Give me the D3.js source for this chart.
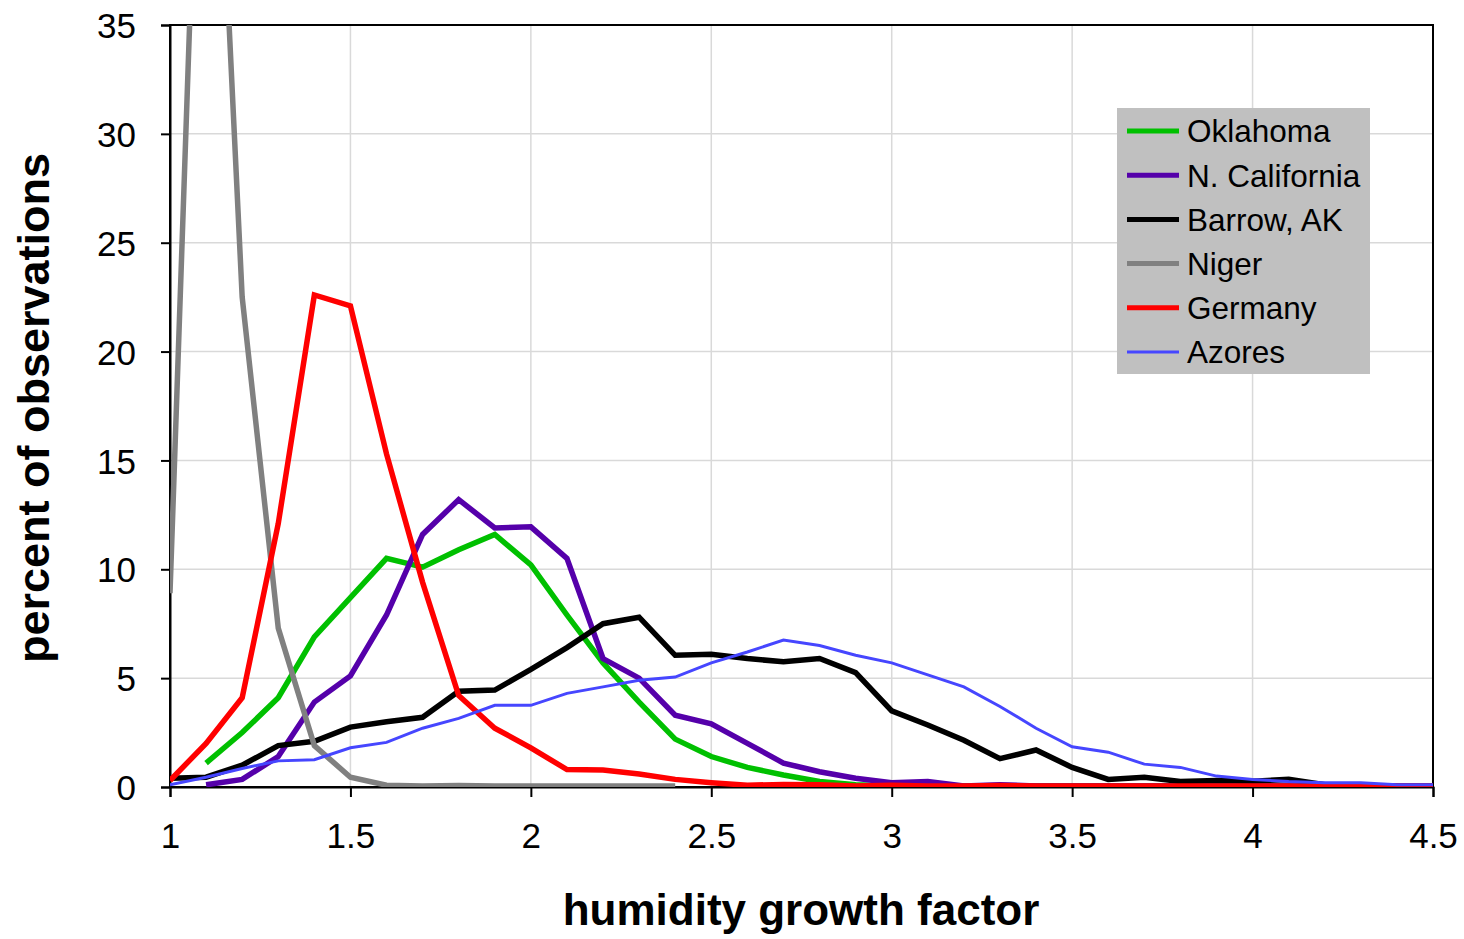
<!DOCTYPE html>
<html>
<head>
<meta charset="utf-8">
<script src="https://d3js.org/d3.v7.min.js"></script>
<style>
  body { margin: 0; background: white; }
  svg { font-family: "Liberation Sans", Arial, sans-serif; }
</style>
</head>
<body>
<svg id="chart" width="1464" height="939"></svg>
<script>
// growth factor bins (0.1 wide)
var gf = [1.0,1.1,1.2,1.3,1.4,1.5,1.6,1.7,1.8,1.9,2.0,2.1,2.2,2.3,2.4,2.5,2.6,2.7,2.8,2.9,3.0,
          3.1,3.2,3.3,3.4,3.5,3.6,3.7,3.8,3.9,4.0,4.1,4.2,4.3,4.4,4.5]

// percent of observations (null = no point)
var oklahoma = [null,1.1,2.5,4.1,6.9,8.7,10.5,10.1,10.9,11.6,10.2,7.9,5.7,3.9,2.2,1.4,0.9,0.55,0.25,0.1,0.05,
                0.05,0.05,0.05,0.05,0.05,0.05,0.05,0.05,0.05,0.05,0.05,0.05,0.05,0.05,0.05]
var nCalifornia = [null,0.1,0.35,1.4,3.9,5.1,7.9,11.6,13.2,11.9,11.95,10.5,5.9,5.0,3.3,2.9,2.0,1.1,0.7,0.4,0.2,
                   0.25,0.05,0.1,0.05,0.05,0.05,0.05,0.05,0.05,0.05,0.05,0.05,0.05,0.05,0.05]
var barrow = [0.4,0.45,1.0,1.9,2.1,2.75,3.0,3.2,4.4,4.45,5.4,6.4,7.5,7.8,6.05,6.1,5.9,5.75,5.9,5.25,3.5,
              2.85,2.15,1.3,1.7,0.9,0.35,0.45,0.25,0.3,0.27,0.35,0.1,0.05,0.05,0.05]
var niger = [8.9,57,22.5,7.3,1.9,0.45,0.08,0.05,0.07,0.05,0.05,0.05,0.05,0.05,0.05,null,null,null,null,null,null,
             null,null,null,null,null,null,null,null,null,null,null,null,null,null,null]
var germany = [0.3,2.0,4.1,12.1,22.6,22.1,15.3,9.4,4.2,2.7,1.8,0.8,0.78,0.6,0.35,0.2,0.08,0.12,0.1,0.05,0.08,
               0.05,0.05,0.07,0.05,0.05,0.05,0.05,0.05,0.05,0.05,0.05,0.05,0.05,0.05,0.05]
var azores = [0.1,0.45,0.85,1.2,1.25,1.8,2.05,2.7,3.15,3.75,3.75,4.3,4.6,4.9,5.05,5.7,6.2,6.75,6.5,6.05,5.7,
              5.15,4.6,3.7,2.7,1.85,1.6,1.05,0.9,0.5,0.35,0.25,0.2,0.2,0.1,0.1]

var seriesNames = ["Oklahoma","N. California","Barrow, AK","Niger","Germany","Azores"]
var seriesValues = [oklahoma, nCalifornia, barrow, niger, germany, azores]
var seriesColors = ["#00c000","#5500aa","#000000","#808080","#ff0000","#4646ff"]
var seriesWidths = [5.5,5.5,5.5,5.5,5.5,3]

var xTicks = [1,1.5,2,2.5,3,3.5,4,4.5]
var yTicks = [0,5,10,15,20,25,30,35]

var margins = {left: 170, right: 31, top: 25, bottom: 152}
var width = 1464, height = 939
var innerW = width - margins.left - margins.right
var innerH = height - margins.top - margins.bottom

var svg = d3.select("#chart")
var g = svg.append("g")
  .attr("transform", "translate(" + margins.left + "," + margins.top + ")")

var xScale = d3.scaleLinear().domain([1, 4.5]).range([0, innerW])
var yScale = d3.scaleLinear().domain([0, 35]).range([innerH, 0])

// clip so Niger's peak is cut at the top
g.append("clipPath").attr("id", "plotclip")
  .append("rect").attr("width", innerW).attr("height", innerH)

// gridlines
g.append("g").selectAll("line").data(xTicks.slice(1, -1)).enter().append("line")
  .attr("x1", function(d){ return xScale(d) }).attr("x2", function(d){ return xScale(d) })
  .attr("y1", 0).attr("y2", innerH)
  .attr("stroke", "#d9d9d9").attr("stroke-width", 1.5)
g.append("g").selectAll("line").data(yTicks.slice(1, -1)).enter().append("line")
  .attr("y1", function(d){ return yScale(d) }).attr("y2", function(d){ return yScale(d) })
  .attr("x1", 0).attr("x2", innerW)
  .attr("stroke", "#d9d9d9").attr("stroke-width", 1.5)

// frame
g.append("rect").attr("width", innerW).attr("height", innerH)
  .attr("fill", "none").attr("stroke", "black").attr("stroke-width", 2)

// axes
var xAxis = g.append("g").attr("transform", "translate(0," + innerH + ")")
  .call(d3.axisBottom(xScale).tickValues(xTicks).tickSize(10).tickPadding(26).tickFormat(d3.format("")))
var yAxis = g.append("g")
  .call(d3.axisLeft(yScale).tickValues(yTicks).tickSize(9).tickPadding(25))
;[xAxis, yAxis].forEach(function(a){
  a.select(".domain").attr("stroke", "black").attr("stroke-width", 2)
  a.selectAll(".tick line").attr("stroke", "black").attr("stroke-width", 2)
  a.selectAll(".tick text").attr("fill", "black")
    .attr("font-family", "Liberation Sans, Arial, sans-serif").attr("font-size", 35)
})
yAxis.selectAll(".tick text").attr("dy", "0.36em")

// series lines
var line = d3.line()
  .defined(function(d){ return d[1] !== null })
  .x(function(d){ return xScale(d[0]) })
  .y(function(d){ return yScale(d[1]) })

var lines = g.append("g").attr("clip-path", "url(#plotclip)")
seriesValues.forEach(function(vals, i){
  var pts = gf.map(function(x, j){ return [x, vals[j]] })
  lines.append("path")
    .attr("d", line(pts))
    .attr("fill", "none")
    .attr("stroke", seriesColors[i])
    .attr("stroke-width", seriesWidths[i])
    .attr("stroke-linejoin", "miter")
})

// axis titles
svg.append("text")
  .attr("x", 801).attr("y", 925)
  .attr("text-anchor", "middle")
  .attr("font-weight", "bold").attr("font-size", 44)
  .text("humidity growth factor")

svg.append("text")
  .attr("transform", "translate(49,408) rotate(-90)")
  .attr("text-anchor", "middle")
  .attr("font-weight", "bold").attr("font-size", 45)
  .text("percent of observations")

// legend
var legend = svg.append("g").attr("transform", "translate(1117,108)")
legend.append("rect").attr("width", 253).attr("height", 266).attr("fill", "#c0c0c0")
var items = legend.selectAll("g.item").data(seriesNames).enter().append("g")
  .attr("transform", function(d, i){ return "translate(0," + (23 + i * 44.2) + ")" })
items.append("line")
  .attr("x1", 10).attr("x2", 62).attr("y1", 0).attr("y2", 0)
  .attr("stroke", function(d, i){ return seriesColors[i] })
  .attr("stroke-width", function(d, i){ return i == 5 ? 3 : 5 })
items.append("text")
  .attr("x", 70).attr("y", 0).attr("dy", "0.36em")
  .attr("font-size", 31.5)
  .text(function(d){ return d })
</script>
</body>
</html>
